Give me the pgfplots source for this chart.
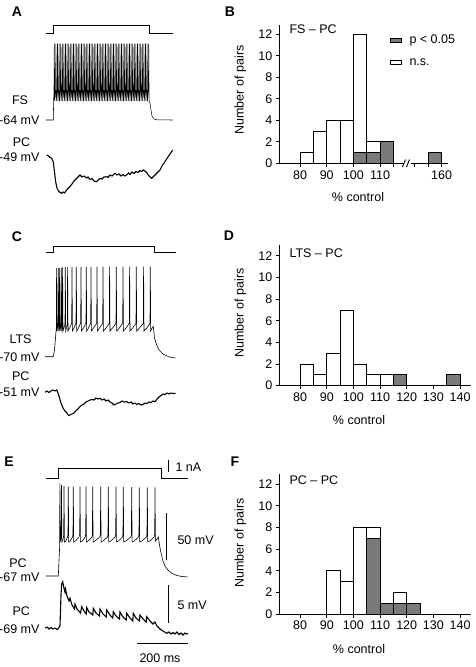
\documentclass[border=0pt]{standalone}
\usepackage{pgfplots}
\pgfplotsset{compat=1.18}
\usepackage{fontspec}
\setmainfont{Liberation Sans}
\definecolor{barg}{RGB}{122,122,122}
\newcommand{\fs}{\fontsize{12.5}{14}\selectfont}
\newcommand{\fl}{\fontsize{14}{16}\bfseries\selectfont}
\pgfplotsset{
  hist/.style={scale only axis, axis x line=bottom, axis y line=left,
    axis line style={-, line width=1pt}, every tick/.style={black, line width=1pt},
    tick align=outside, major tick length=3.5pt, ymin=0, ytick={0,2,4,6,8,10,12},
    tick label style={font=\fs}, /pgf/number format/assume math mode=true},
  wbar/.style={ybar, bar width=5, bar shift=0pt, fill=white, draw=black, line width=0.8pt},
  gbar/.style={ybar, bar width=5, bar shift=0pt, fill=barg, draw=black, line width=0.8pt},
}
\begin{document}
\begin{tikzpicture}
\path[use as bounding box] (0,0) rectangle (476pt,667pt);

% ---------- B ----------
\begin{axis}[hist, at={(279.3pt,503.7pt)}, anchor=south west, width=169pt, height=138.3pt,
  xmin=72.2, xmax=135.6, ymax=12.87,
  xtick={80,90,100,110,115,123.1,128.1,133.1}, xticklabels={80,90,100,110,,,,160}]
\addplot[wbar] coordinates {(82.5,1)(87.5,3)(92.5,4)(97.5,4)(102.5,12)(107.5,2)};
\addplot[gbar] coordinates {(102.5,1)(107.5,1)(112.5,2)(130.6,1)};
\end{axis}

% ---------- D ----------
\begin{axis}[hist, at={(279.3pt,281.3pt)}, anchor=south west, width=191.4pt, height=140.7pt,
  xmin=72.2, xmax=144, ymax=13.0, xtick={80,90,...,140}]
\addplot[wbar] coordinates {(82.5,2)(87.5,1)(92.5,3)(97.5,7)(102.5,2)(107.5,1)(112.5,1)};
\addplot[gbar] coordinates {(117.5,1)(137.5,1)};
\end{axis}

% ---------- F ----------
\begin{axis}[hist, at={(279.3pt,53pt)}, anchor=south west, width=191.4pt, height=140pt,
  xmin=72.2, xmax=144, ymax=12.95, xtick={80,90,...,140}]
\addplot[wbar] coordinates {(92.5,4)(97.5,3)(102.5,8)(107.5,8)(117.5,2)};
\addplot[gbar] coordinates {(107.5,7)(112.5,1)(117.5,1)(122.5,1)};
\end{axis}

% ---------- traces and text (pixel frame) ----------
\begin{axis}[at={(0pt,0pt)}, anchor=south west, scale only axis, width=476pt, height=667pt,
  xmin=0, xmax=476, ymin=0, ymax=667, y dir=reverse, hide axis, clip=false, no markers]
% A: current step
\addplot[black, line width=0.9pt] coordinates {(45.7,33.3)(53.3,33.3)(53.3,25)(149.3,25)(149.3,33.3)(172.7,33.3)};
% A: FS
\addplot[black, line width=0.55pt] coordinates {(46,120)(53.3,120)(53.6,104)
(54.0,89)(54.3,43.5)(54.7,101)(55.6,89)(55.9,43.5)(56.3,101)(57.2,89)(57.5,43.5)(57.9,101)
(58.8,89)(59.1,43.5)(59.5,101)(60.4,89)(60.7,43.5)(61.1,101)(62.0,89)(62.3,43.5)(62.7,101)
(63.6,89)(63.9,43.5)(64.3,101)(65.2,89)(65.5,43.5)(65.9,101)(66.8,89)(67.1,43.5)(67.5,101)
(68.4,89)(68.7,43.5)(69.1,101)(70.0,89)(70.3,43.5)(70.7,101)(71.6,89)(71.9,43.5)(72.3,101)
(73.2,89)(73.5,43.5)(73.9,101)(74.8,89)(75.1,43.5)(75.5,101)(76.4,89)(76.7,43.5)(77.1,101)
(78.0,89)(78.3,43.5)(78.7,101)(79.6,89)(79.9,43.5)(80.3,101)(81.2,89)(81.5,43.5)(81.9,101)
(82.8,89)(83.1,43.5)(83.5,101)(84.4,89)(84.7,43.5)(85.1,101)(86.0,89)(86.3,43.5)(86.7,101)
(87.6,89)(87.9,43.5)(88.3,101)(89.2,89)(89.5,43.5)(89.9,101)(90.8,89)(91.1,43.5)(91.5,101)
(92.4,89)(92.7,43.5)(93.1,101)(94.0,89)(94.3,43.5)(94.7,101)(95.6,89)(95.9,43.5)(96.3,101)
(97.2,89)(97.5,43.5)(97.9,101)(98.8,89)(99.1,43.5)(99.5,101)(100.4,89)(100.7,43.5)(101.1,101)
(102.0,89)(102.3,43.5)(102.7,101)(103.6,89)(103.9,43.5)(104.3,101)(105.2,89)(105.5,43.5)(105.9,101)
(106.8,89)(107.1,43.5)(107.5,101)(108.4,89)(108.7,43.5)(109.1,101)(110.0,89)(110.3,43.5)(110.7,101)
(111.6,89)(111.9,43.5)(112.3,101)(113.2,89)(113.5,43.5)(113.9,101)(114.8,89)(115.1,43.5)(115.5,101)
(116.4,89)(116.7,43.5)(117.1,101)(118.0,89)(118.3,43.5)(118.7,101)(119.6,89)(119.9,43.5)(120.3,101)
(121.2,89)(121.5,43.5)(121.9,101)(122.8,89)(123.1,43.5)(123.5,101)(124.4,89)(124.7,43.5)(125.1,101)
(126.0,89)(126.3,43.5)(126.7,101)(127.6,89)(127.9,43.5)(128.3,101)(129.2,89)(129.5,43.5)(129.9,101)
(130.8,89)(131.1,43.5)(131.5,101)(132.4,89)(132.7,43.5)(133.1,101)(134.0,89)(134.3,43.5)(134.7,101)
(135.6,89)(135.9,43.5)(136.3,101)(137.2,89)(137.5,43.5)(137.9,101)(138.8,89)(139.1,43.5)(139.5,101)
(140.4,89)(140.7,43.5)(141.1,101)(142.0,89)(142.3,43.5)(142.7,101)(143.6,89)(143.9,43.5)(144.3,101)
(145.2,89)(145.5,43.5)(145.9,101)(146.8,89)(147.1,43.5)(147.5,101)(148.4,89)(148.7,43.5)(149.1,101)
(150,103)(151,110)(152,116)(154,119)(157,119.8)(172.7,120)};
% A: PC
\addplot[black, line width=1.1pt] coordinates {(46.7,155)(48.5,156)(50,157.5)(51.7,158.3)(53.3,162)(54.5,172)(55.7,182)(57,188)(58.5,191)(60,192.5)(61.7,193.3)(63,192)(64.5,193)(66.7,190)(68,188.5)(70,186.5)(72,184)(74,181)(76,179)(78,177)(80,175)(82,177)(84,176)(86.7,178)(88,177)(90,179.5)(92,178.5)(94,181)(96.7,181.7)(98,180)(100,178.5)(102,179)(104,177)(106.7,176.7)(108,177.5)(110,175)(112,176)(115,173.3)(117,175)(119,174)(121,176)(123,174.5)(124.7,176)(126.7,175)(128.5,173)(130,174.5)(132,172)(134,173.5)(136,171.5)(138,172.5)(140,170.5)(141.5,171.5)(143.3,170)(145,171)(147,173)(149,176)(151.7,178.3)(153,177)(155,175)(157,173)(160,170)(162,166)(164,163)(166,160)(168,157)(170,154)(172.7,150)};
\node[font=\fl] at (axis cs:17,12) {A};
\node[font=\fs] at (axis cs:20,100) {FS};
\node[font=\fs, anchor=east] at (axis cs:43,120) {-64 mV};
\node[font=\fs] at (axis cs:21.5,141.7) {PC};
\node[font=\fs, anchor=east] at (axis cs:43,156.7) {-49 mV};

% C: current step
\addplot[black, line width=0.9pt] coordinates {(45.7,252.3)(53.3,252.3)(53.3,246.7)(154,246.7)(154,252.3)(175.7,252.3)};
% C: LTS
\addplot[black, line width=0.6pt] coordinates {(45,356.7)(53.3,356.7)(54.5,350)(55.5,338)(56.3,328)
(56.6,268)(57.0,331)(57.6,327)
(58,325)(58.3,268)(58.7,331)
(59.3,325)(59.6,268)(60.0,331)(60.5,328)
(61,325)(61.3,268)(61.7,331)
(62.3,325)(62.6,267)(63.0,331)(64,328)
(65,324)(65.3,267)(65.7,331)(66.5,328)
(67.3,324)(67.6,267)(68,331)(69.5,328)(71,325)
(71.7,323)(72,267)(72.4,331)(74,328)(75.5,324)
(76,323)(76.3,267)(76.7,331)(78.5,328)(80.2,324)
(80.7,323)(81,267)(81.4,331)(83.5,328)(85.5,324)
(86,323)(86.3,267)(86.7,331)(88.5,328)(90.2,324)
(90.7,323)(91,267)(91.4,331)(93.5,328)(96.2,324)
(96.7,323)(97,266.5)(97.4,331)(99.5,328)(102.2,324)
(102.7,323)(103,266.5)(103.4,331)(106,328)(108.8,324)
(109.3,323)(109.6,266.5)(110,331)(112.5,328)(115.5,324)
(116,323)(116.3,266.5)(116.7,331)(119.3,328)(122.2,324)
(122.7,323)(123,266.5)(123.4,331)(126,328)(128.8,324)
(129.3,323)(129.6,266.5)(130,331)(132.7,328)(135.5,324)
(136,323)(136.3,266.5)(136.7,331)(139.5,328)(142.8,324)
(143.3,323)(143.6,266.5)(144,331)(146.8,328)(149.5,324)
(150,323)(150.3,266.5)(150.7,331)(152,328)(153.3,326.5)(154.5,338)(156.7,345)(159,350)(163,354)(168,356.5)(172,357.5)(175.7,358)};
% C: PC
\addplot[black, line width=1.1pt] coordinates {(45,392.3)(47,391)(49,392.5)(51,391)(53,390)(55,391)(56.7,390)(58,393)(59.3,397)(61,403)(63,408)(65,411)(67,413)(68.5,415.5)(70,415)(72,414)(74,413)(76,410.5)(78,409)(80,406.5)(82,405)(84,404)(86,402)(88,401)(90,400)(92,399.5)(94,400)(96,398)(98,399)(100,398.3)(102,400)(104,399)(106,401)(108,400)(110,402)(112,403)(114,405)(116,404)(118,403)(120,402.5)(122,401)(124,402)(126.7,401.7)(129,403)(131,402)(133,404)(135,403)(137,404.5)(139,403.5)(141,405)(143.3,404.3)(145,403)(147,403.5)(149,402)(151,402.5)(153,401)(155,401.7)(157,399)(159,397)(161,395.5)(163.3,394)(165,394.5)(167,393)(169,394)(171,393)(173,393.5)(175.7,393.3)};
\node[font=\fl] at (axis cs:17,237) {C};
\node[font=\fs] at (axis cs:20.5,339) {LTS};
\node[font=\fs, anchor=east] at (axis cs:43,356.7) {-70 mV};
\node[font=\fs] at (axis cs:20.8,376) {PC};
\node[font=\fs, anchor=east] at (axis cs:43,392.3) {-51 mV};

% E: current step
\addplot[black, line width=0.9pt] coordinates {(46,478.3)(58.3,478.3)(58.3,468.3)(161,468.3)(161,478.3)(187.7,478.3)};
% E: PC (top)
\addplot[black, line width=0.6pt] coordinates {(46,576)(58.3,576)(59,560)(59.6,548)
(59.9,483.3)(60.3,541)(61.2,538)
(61.5,485)(61.9,542)(63,540)(63.7,535)
(64,486)(64.4,542)(65.8,541)(67.5,537)(68,534)
(68.3,486.7)(68.7,542)(70.2,541)(72.5,537)(73,534)
(73.3,486.7)(73.7,542)(75.5,541)(79,537)(79.7,534)
(80,486.7)(80.4,542)(82.2,541)(85.3,537)(85.7,534)
(86,486.7)(86.4,542)(88.2,541)(92,537)(92.4,534)
(92.7,486.7)(93.1,542)(95,541)(99.8,537)(100.4,534)
(100.7,486.7)(101.1,542)(103,541)(107.5,537)(108,534)
(108.3,486.7)(108.7,542)(110.7,541)(115.2,537)(115.7,534)
(116,486.7)(116.4,542)(118.5,541)(122.5,537)(123,534)
(123.3,487)(123.7,542)(125.8,541)(130.9,537)(131.4,534)
(131.7,487)(132.1,542)(134.2,541)(138.5,537)(139,534)
(139.3,487.3)(139.7,542)(141.8,541)(146.5,537)(147,534)
(147.3,487.3)(147.7,542)(149.8,541)(154.2,537)(154.7,534)
(155,487.3)(155.4,541)(157,539)(158.3,537)(159.5,545)(161,553)(163,561)(165,566)(168,570)(172,573.5)(177,575.5)(182,576.5)(187.7,577)};
% E: PC (bottom)
\addplot[black, line width=1.1pt] coordinates {(45,628)(47,627)(49,629)(51,627.5)(53,629)(55,628)(57,629.5)(58.3,628.5)(60,626)(61,595)(61.7,584)(62.7,581.7)(64,588)(65,592)(65.5,589)(67,596)(69,601)(70,598)(72,605)(74.5,609)(75,604)(77,609)(80.5,613)(81.7,606.7)(84,611)(86.2,614)(86.7,607.5)(89,612)(92.8,615)(93.3,608.3)(96,613)(99.5,616)(100,609)(103,614)(106.2,617)(106.7,610)(110,615)(112.8,618)(113.3,611.7)(116,616)(119.5,619)(120,612)(123,617)(126.2,620)(126.7,613.3)(130,618)(132.8,621)(133.3,613.3)(136,618)(139.5,621)(140,615)(143,619)(146.2,622)(146.7,616.7)(150,621)(153,624)(155,622)(157,626)(160,629)(163,631)(166.7,633.3)(169,632)(171,634)(173,632.5)(175,634)(177,632)(179,634.5)(181,633)(183,635)(185,633)(186.7,634)(188,633.5)};
\node[font=\fl] at (axis cs:9,462) {E};
\node[font=\fs] at (axis cs:18,563.5) {PC};
\node[font=\fs, anchor=east] at (axis cs:43,576.7) {-67 mV};
\node[font=\fs] at (axis cs:21.3,611.3) {PC};
\node[font=\fs, anchor=east] at (axis cs:43,629) {-69 mV};
% scale bars
\draw[line width=1pt] (axis cs:168.3,460) -- (axis cs:168.3,471.7);
\node[font=\fs, anchor=west] at (axis cs:172,466.7) {1 nA};
\draw[line width=1pt] (axis cs:166,513.3) -- (axis cs:166,560);
\node[font=\fs, anchor=west] at (axis cs:174,540) {50 mV};
\draw[line width=1pt] (axis cs:168.3,585) -- (axis cs:168.3,623.3);
\node[font=\fs, anchor=west] at (axis cs:174,605) {5 mV};
\draw[line width=1pt] (axis cs:136.7,643.3) -- (axis cs:187.7,643.3);
\node[font=\fs] at (axis cs:160,658.3) {200 ms};

% right panels text
\node[font=\fl] at (axis cs:230,12) {B};
\node[font=\fl] at (axis cs:229,236) {D};
\node[font=\fl] at (axis cs:235,462) {F};
\node[font=\fs, rotate=90] at (axis cs:240.5,90) {Number of pairs};
\node[font=\fs, rotate=90] at (axis cs:240.5,313) {Number of pairs};
\node[font=\fs, rotate=90] at (axis cs:240.5,543) {Number of pairs};
\node[font=\fs] at (axis cs:358,197) {\% control};
\node[font=\fs] at (axis cs:359,420) {\% control};
\node[font=\fs] at (axis cs:359,648.7) {\% control};
\node[font=\fs, anchor=west] at (axis cs:286,29.5) {FS – PC};
\node[font=\fs, anchor=west] at (axis cs:286,253.5) {LTS – PC};
\node[font=\fs, anchor=west] at (axis cs:286,480.5) {PC – PC};
% legend of B
\draw[fill=barg, line width=0.7pt] (axis cs:390,38.3) rectangle (axis cs:401.7,42.7);
\node[font=\fs, anchor=west] at (axis cs:406,40) {p < 0.05};
\draw[fill=white, line width=0.7pt] (axis cs:390,60) rectangle (axis cs:401.7,64.3);
\node[font=\fs, anchor=west] at (axis cs:406,62) {n.s.};
% axis break of B
\fill[white] (axis cs:403.5,161.5) rectangle (axis cs:410.5,165.1);
\draw[line width=0.9pt] (axis cs:402.5,167) -- (axis cs:405.5,159.5);
\draw[line width=0.9pt] (axis cs:406.5,167) -- (axis cs:409.5,159.5);
\end{axis}
\end{tikzpicture}
\end{document}
